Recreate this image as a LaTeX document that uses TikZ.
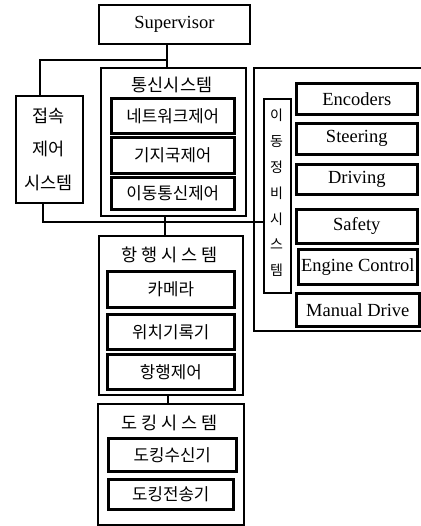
\documentclass[tikz,border=0pt]{standalone}
\usepackage{fontspec}
\setmainfont{Liberation Serif}
\newfontfamily\kr{Noto Sans CJK KR}
\begin{document}
\begin{tikzpicture}[x=1pt,y=-1pt,
  outerbox/.style={draw,line width=1.8pt,inner sep=0pt,anchor=north west},
  innerbox/.style={draw,line width=2.6pt,inner sep=0pt,anchor=north west},
  entext/.style={font=\fontsize{18.5}{20}\selectfont},
  krtext/.style={font=\kr\fontsize{16.8}{18}\selectfont},
  krtitle/.style={font=\kr\fontsize{17.5}{19}\selectfont,inner sep=0pt},
  conn/.style={line width=1.8pt}]
\useasboundingbox (0,0) rectangle (420,526);
% Supervisor
\node[outerbox,entext,minimum width=151pt,minimum height=39pt] (sup) at (98,4) {Supervisor};
% communication system
\node[outerbox,minimum width=145pt,minimum height=148pt] (tong) at (100,67) {};
\node[krtitle] (tongt) at (172,85) {통신시스템};
\node[innerbox,krtext,minimum width=123pt,minimum height=35pt] (net) at (110,97) {네트워크제어};
\node[innerbox,krtext,minimum width=123pt,minimum height=36pt] (giji) at (110,136) {기지국제어};
\node[innerbox,krtext,minimum width=123pt,minimum height=32pt] (idong) at (110,176) {이동통신제어};
% access control
\node[outerbox,minimum width=67pt,minimum height=107pt] (jeop) at (15,95) {};
\node[krtitle,align=center,font=\kr\fontsize{17.5}{33.5}\selectfont] (jeopt) at (48.5,149) {접속\\제어\\시스템};
% mobile maintenance system
\node[outerbox,minimum width=169pt,minimum height=263pt] (rbox) at (253,67) {};
\node[draw,line width=2pt,inner sep=0pt,anchor=north west,minimum width=27pt,minimum height=194pt] (ij) at (263,98) {};
\node[align=center,inner sep=0pt,font=\kr\fontsize{14}{25.8}\selectfont] (ijt) at (276.5,193) {이\\동\\정\\비\\시\\스\\템};
\node[innerbox,entext,minimum width=121pt,minimum height=31pt] (enc) at (295,82) {Encoders};
\node[innerbox,entext,minimum width=121pt,minimum height=31pt] (ste) at (295,122) {Steering};
\node[innerbox,entext,minimum width=121pt,minimum height=30pt] (drv) at (295,163) {Driving};
\node[innerbox,entext,minimum width=121pt,minimum height=34pt] (saf) at (295,208) {Safety};
\node[innerbox,entext,minimum width=119pt,minimum height=35pt] (eng) at (297,248) {Engine Control};
\node[innerbox,entext,minimum width=123pt,minimum height=33pt] (man) at (295,292) {Manual Drive};
% navigation system
\node[outerbox,minimum width=144pt,minimum height=159pt] (hang) at (98,235) {};
\node[krtitle] (hangt) at (170,255) {항 행 시 스 템};
\node[innerbox,krtext,minimum width=127pt,minimum height=36pt] (cam) at (106,270) {카메라};
\node[innerbox,krtext,minimum width=127pt,minimum height=35pt] (wich) at (106,313) {위치기록기};
\node[innerbox,krtext,minimum width=127pt,minimum height=35pt] (hctl) at (106,353) {항행제어};
% docking system
\node[outerbox,minimum width=146pt,minimum height=121pt] (dock) at (97,403) {};
\node[krtitle] (dockt) at (170,423) {도 킹 시 스 템};
\node[innerbox,krtext,minimum width=128pt,minimum height=33pt] (drec) at (107,437) {도킹수신기};
\node[innerbox,krtext,minimum width=125pt,minimum height=30pt] (dsnd) at (107,478) {도킹전송기};
% connectors
\coordinate (c1) at (167,60);
\coordinate (c2) at (40,60);
\coordinate (j1) at (43,222);
\coordinate (c3) at (165,225);
\coordinate (c4) at (168,398);
\draw[conn] (c1 |- sup.south) -- (c1 |- tong.north);
\draw[conn] (c1) -- (c2) -- (c2 |- jeop.north);
\draw[conn] (j1 |- jeop.south) -- (j1) -- (j1 -| ij.west);
\draw[conn] (c3 |- tong.south) -- (c3 |- hang.north);
\draw[conn] (c4 |- hang.south) -- (c4 |- dock.north);
\end{tikzpicture}
\end{document}
